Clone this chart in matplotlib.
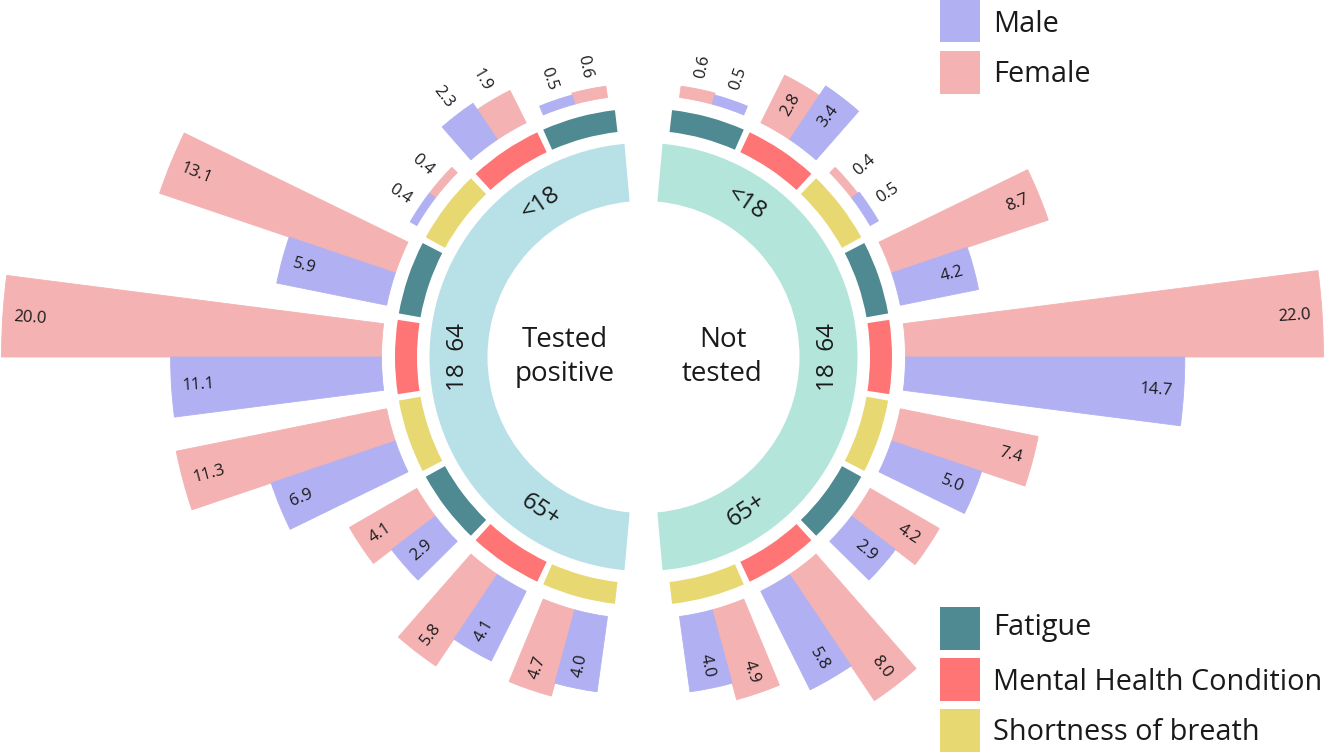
import numpy as np
import matplotlib.pyplot as plt
from matplotlib.patches import Rectangle

plt.rcParams['font.family'] = ['Open Sans', 'DejaVu Sans']

# ------------------------------------------------------------
# data (percent of respondents)
# ------------------------------------------------------------
AGE_GROUPS = ["<18", "18  64", "65+"]
SYMPTOMS = ["Fatigue", "Mental Health Condition", "Shortness of breath"]
SEXES = ["Male", "Female"]

# order inside each list: <18 (F, M, S), 18-64 (F, M, S), 65+ (F, M, S)
pos_female = [0.6, 1.9, 0.4, 13.1, 20.0, 11.3, 4.1, 5.8, 4.7]
pos_male = [0.5, 2.3, 0.4, 5.9, 11.1, 6.9, 2.9, 4.1, 4.0]
not_female = [0.6, 2.8, 0.4, 8.7, 22.0, 7.4, 4.2, 8.0, 4.9]
not_male = [0.5, 3.4, 0.5, 4.2, 14.7, 5.0, 2.9, 5.8, 4.0]

GROUP_NAMES = ["Tested\npositive", "Not\ntested"]

# ------------------------------------------------------------
# style
# ------------------------------------------------------------
COL_MALE = "#b0b0f2"
COL_FEMALE = "#f4b2b2"
COL_SYMPTOM = ["#4f8a92", "#ff7575", "#e8d872"]
COL_AGE = ["#b8e0e7", "#b3e5da"]
TXT = "#1a1a1a"

W, H = 1325, 752
CX, CY = 643.5, 357.0      # centre of the wheel in pixels (from top)
R_MAX = 700.0

UNIT = 19.0                # pixels per percent
R_BAR = 262.0
R_SYM = (226.5, 248.5)
R_AGE = (156.0, 214.0)

STEP = 18.7                # degrees between symptom slots
BAR_W = 7.3
SYM_W = 17.2
AGE_EDGE = 5.1
PAD = 11.0
INSIDE_MIN = 2.5


def slot_angle(k):
    return 90 + (k - 4) * STEP


def readable(rot):
    while rot > 90:
        rot -= 180
    while rot <= -90:
        rot += 180
    return rot


fig = plt.figure(figsize=(W / 100, H / 100), dpi=100)
ax = fig.add_axes([(CX - R_MAX) / W, (H - CY - R_MAX) / H,
                   2 * R_MAX / W, 2 * R_MAX / H], projection="polar")
ax.set_theta_zero_location("N")
ax.set_theta_direction(-1)
ax.set_ylim(0, R_MAX)
ax.set_axis_off()

halves = [(-1, pos_female, pos_male), (1, not_female, not_male)]

for h, (sign, fem, mal) in enumerate(halves):
    # age ring
    span = 180 - 2 * AGE_EDGE
    ax.bar(np.deg2rad(sign * 90), R_AGE[1] - R_AGE[0], width=np.deg2rad(span),
           bottom=R_AGE[0], color=COL_AGE[h], linewidth=0)
    for g, name in enumerate(AGE_GROUPS):
        th = sign * slot_angle(3 * g + 1)
        rot = readable((90 - th) - 90)
        ax.text(np.deg2rad(th), sum(R_AGE) / 2, name, rotation=rot,
                rotation_mode="anchor", ha="center", va="center",
                fontsize=17.5, color=TXT)

    ax.text(np.deg2rad(sign * 90), 79, GROUP_NAMES[h], ha="center",
            va="center", fontsize=20, color=TXT, linespacing=1.3)

    for k in range(9):
        c = sign * slot_angle(k)
        ax.bar(np.deg2rad(c), R_SYM[1] - R_SYM[0], width=np.deg2rad(SYM_W),
               bottom=R_SYM[0], color=COL_SYMPTOM[k % 3], linewidth=0)

        for val, off, col in [(fem[k], -BAR_W / 2, COL_FEMALE),
                              (mal[k], BAR_W / 2, COL_MALE)]:
            th = c + sign * off
            ax.bar(np.deg2rad(th), val * UNIT, width=np.deg2rad(BAR_W),
                   bottom=R_BAR, color=col, edgecolor=col, linewidth=0.6)

            r_end = R_BAR + val * UNIT
            inside = val > INSIDE_MIN
            if sign > 0:
                rot = 90 - th
                ha = "right" if inside else "left"
            else:
                rot = 90 - th - 180
                ha = "left" if inside else "right"
            r_txt = r_end - PAD if inside else r_end + PAD
            ax.text(np.deg2rad(th), r_txt, f"{val:.1f}", rotation=rot,
                    rotation_mode="anchor", ha=ha, va="center",
                    fontsize=12, color=TXT)


# ------------------------------------------------------------
# legends
# ------------------------------------------------------------
def legend_item(y_top, color, label, baseline):
    fig.patches.append(Rectangle((940 / W, 1 - (y_top + 43) / H), 40 / W, 43 / H,
                                 transform=fig.transFigure, figure=fig,
                                 facecolor=color, edgecolor="none"))
    fig.text(993 / W, 1 - baseline / H, label, ha="left", va="baseline",
             fontsize=20.8, color=TXT)


legend_item(-1, COL_MALE, SEXES[0], 32)
legend_item(51, COL_FEMALE, SEXES[1], 82)
legend_item(607, COL_SYMPTOM[0], SYMPTOMS[0], 635)
legend_item(658, COL_SYMPTOM[1], SYMPTOMS[1], 690)
legend_item(709, COL_SYMPTOM[2], SYMPTOMS[2], 740)

fig.savefig("out.png", dpi=100)
